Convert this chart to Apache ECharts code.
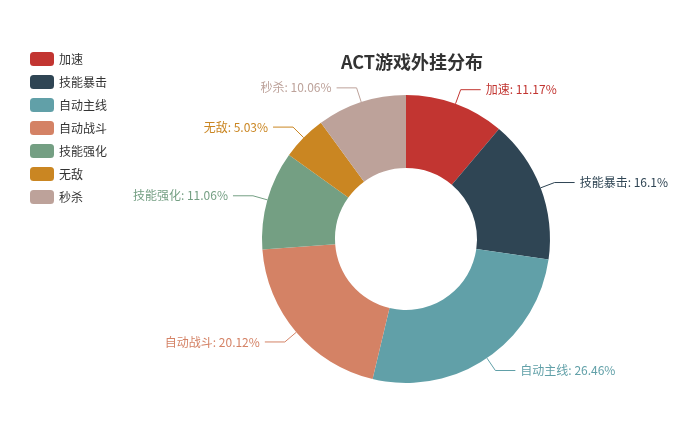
<!DOCTYPE html>
<html><head><meta charset="utf-8">
<script src="https://cdn.jsdelivr.net/npm/echarts@6/dist/echarts.min.js"></script>
<style>html,body{margin:0;padding:0;background:#fff}#c{width:692px;height:441px}</style>
</head><body><div id="c"></div>
<script>
var categories = ['加速','技能暴击','自动主线','自动战斗','技能强化','无敌','秒杀'];
var values = [11.17, 16.1, 26.46, 20.12, 11.06, 5.03, 10.06];
var colors = ['#c23531','#2f4554','#61a0a8','#d48265','#749f83','#ca8622','#bda29a'];
var chart = echarts.init(document.getElementById('c'));
chart.setOption({
  color: colors,
  textStyle: {fontFamily: '"Noto Sans CJK SC", "Noto Sans", sans-serif'},
  title: {
    text: 'ACT游戏外挂分布', left: 407, top: 48, textAlign: 'center',
    textStyle: {fontSize: 18, fontWeight: 'bold', color: '#333', fontFamily: '"Noto Sans CJK SC", sans-serif'}
  },
  legend: {
    orient: 'vertical', left: 25, top: 47, itemWidth: 24, itemHeight: 14, itemGap: 9,
    textStyle: {fontSize: 12, color: '#333'},
    data: categories
  },
  series: [{
    type: 'pie', center: [406, 239], radius: [71, 144],
    label: {formatter: '{b}: {d}%', fontSize: 12, color: 'inherit'},
    labelLine: {length: 15, length2: 20},
    data: categories.map(function (n, i) { return {name: n, value: values[i]}; })
  }]
});
</script></body></html>
